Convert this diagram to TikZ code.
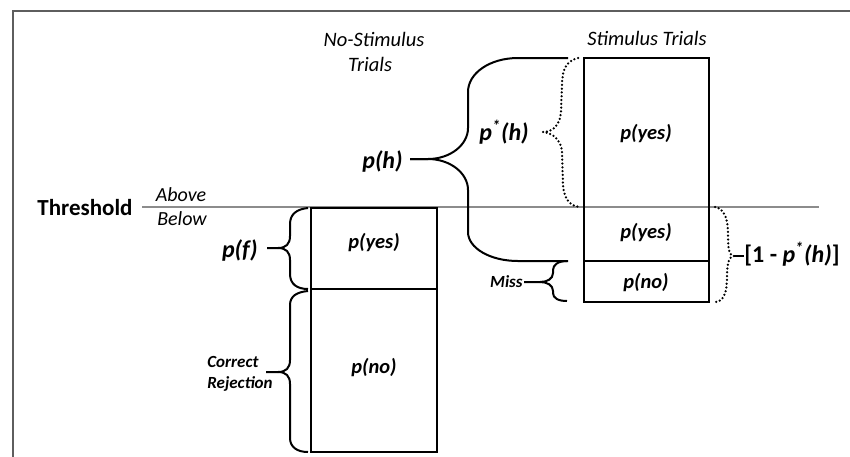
\documentclass[tikz,border=0pt]{standalone}
\usepackage{fontspec}
\setmainfont{Carlito}
\definecolor{framec}{HTML}{5E5E5E}
\definecolor{threshc}{HTML}{8C8C8C}
\begin{document}
\begin{tikzpicture}[x=0.5pt,y=-0.5pt,
  box/.style={draw, line width=1pt, inner sep=0pt, outer sep=0pt},
  plab/.style={font=\fontsize{10.25}{12.5}\selectfont\bfseries\itshape, inner sep=0pt, anchor=base},
  biglab/.style={font=\fontsize{12}{14}\selectfont\bfseries\itshape, inner sep=0pt},
  smalllab/.style={font=\fontsize{8.5}{10.5}\selectfont\bfseries\itshape, inner sep=0pt},
  headlab/.style={font=\fontsize{10.25}{12.5}\selectfont\itshape, inner sep=0pt, anchor=base},
  sbrace/.style={line width=1pt, line join=round},
  dbrace/.style={line width=1.25pt, line cap=round, dash pattern=on 0pt off 1.9pt}]
\clip (0,0) rectangle (850,456);
\fill[white] (0,0) rectangle (850,456);
% frame
\draw[framec, line width=1pt] (13,470) -- (13,11) -- (870,11);
% headings
\node[headlab] (nsh1) at (374,46) {No-Stimulus};
\node[headlab] (nsh2) at (370,71) {Trials};
\node[headlab] (sh) at (647,45) {Stimulus Trials};
% threshold
\node[font=\fontsize{11.5}{14}\selectfont\bfseries, inner sep=0pt, anchor=base] (thr) at (85,215) {Threshold};
\node[font=\fontsize{10}{12}\selectfont\itshape, inner sep=0pt, anchor=base] (above) at (181,201) {Above};
\node[font=\fontsize{10}{12}\selectfont\itshape, inner sep=0pt, anchor=base] (below) at (182,225) {Below};
\coordinate (tl) at (142,207);
\coordinate (tr) at (819,207);
\draw[threshc, line width=1pt] (tl) -- (tr);
% boxes
\node[box, minimum width=63pt, minimum height=40.5pt] (nsyes) at (374,248.5) {};
\node[box, minimum width=63pt, minimum height=81.5pt] (nsno) at (374,370.5) {};
\node[box, minimum width=62.5pt, minimum height=101.5pt] (syes) at (646.5,159.5) {};
\node[box, minimum width=62.5pt, minimum height=20.5pt] (sno) at (646.5,281.5) {};
% box labels
\node[plab] (l1) at (374,248) {p(yes)};
\node[plab] (l2) at (374,373) {p(no)};
\node[plab] (l3) at (646,139) {p(yes)};
\node[plab] (l4) at (646,238) {p(yes)};
\node[plab] (l5) at (646,288) {p(no)};
% side labels
\node[biglab, anchor=base east] (ph) at (403,168) {p(h)};
\node[biglab, anchor=base] (psh) at (504,140) {p\textsuperscript{*}(h)};
\node[biglab, anchor=base east] (pf) at (258,257) {p(f)};
\node[smalllab, anchor=base west] (cr1) at (207,367) {Correct};
\node[smalllab, anchor=base west] (cr2) at (207,388) {Rejection};
\node[smalllab, anchor=base east] (miss) at (523,287) {Miss};
\node[biglab, anchor=base west] (oneminus) at (744,262) {{\upshape[1 - }p\textsuperscript{*}(h){\upshape]}};
% p(h) brace
\draw[sbrace] (568,58) -- (518,58) .. controls (490,58) and (468,73) .. (468,92) -- (468,128)
   .. controls (468,145) and (450,159) .. (428,159) -- (410,159);
\draw[sbrace] (410,159) -- (428,159) .. controls (450,159) and (468,173) .. (468,190) -- (468,232)
   .. controls (468,248) and (490,261) .. (518,261) -- (568,261);
% p*(h) dotted brace
\draw[dbrace] (578,58) .. controls (566,61) and (562,70) .. (562,85) -- (561,112)
   .. controls (560,126) and (552,132) .. (543,132)
   .. controls (552,133) and (561,139) .. (562,152) -- (563,185)
   .. controls (564,199) and (570,206) .. (580,207);
% [1 - p*(h)] dotted brace
\draw[dbrace] (715,207) .. controls (725,209) and (728,220) .. (728,235)
   .. controls (728,248) and (729,256) .. (734,256)
   .. controls (729,256) and (727,264) .. (727,276)
   .. controls (727,292) and (724,301) .. (716,302);
\draw[line width=1pt] (734,256) -- (oneminus.west |- 0,256);
% Miss brace
\draw[sbrace] (567,261) .. controls (558,261) and (553,265) .. (553,270) -- (553,273)
   .. controls (553,279) and (547,282) .. (540,282) -- (524,282);
\draw[sbrace] (540,282) .. controls (547,282) and (553,285) .. (553,291) -- (553,293)
   .. controls (553,298) and (558,301) .. (567,301);
% p(f) brace
\draw[sbrace] (308,208) .. controls (297,209) and (290,214) .. (290,224) -- (290,236)
   .. controls (290,244) and (286,248) .. (278,248) -- (267,248);
\draw[sbrace] (278,248) .. controls (286,248) and (290,252) .. (290,260) -- (290,274)
   .. controls (290,284) and (297,289) .. (308,289);
% Correct Rejection brace
\draw[sbrace] (308,291) .. controls (297,292) and (290,296) .. (290,305) -- (290,360)
   .. controls (290,368) and (286,372) .. (278,372) -- (266,372);
\draw[sbrace] (278,372) .. controls (286,372) and (290,376) .. (290,384) -- (290,438)
   .. controls (290,447) and (297,452) .. (308,452);
\end{tikzpicture}
\end{document}
